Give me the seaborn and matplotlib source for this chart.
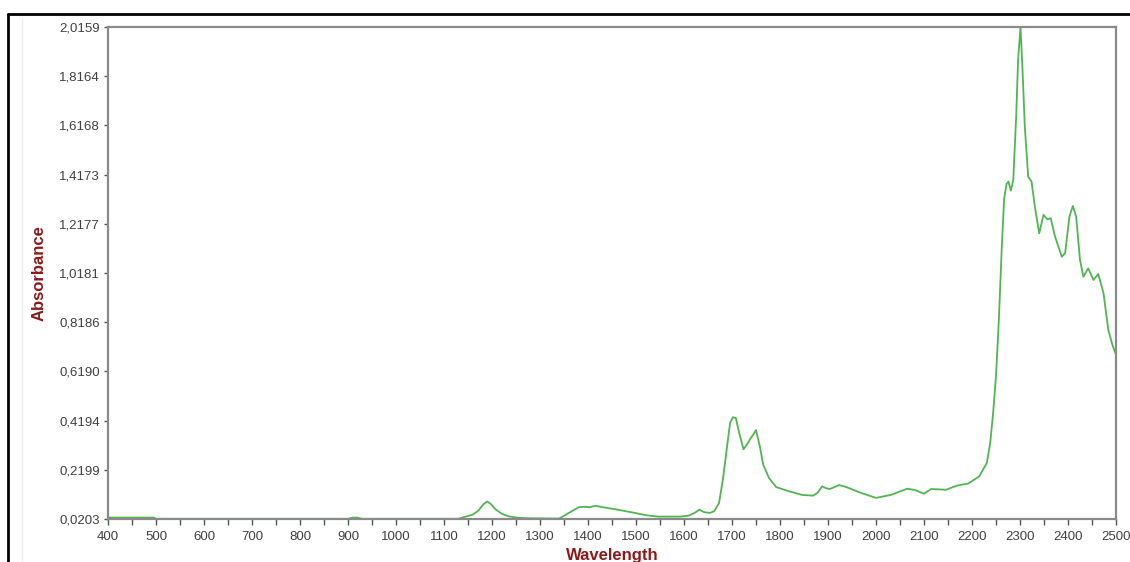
import numpy as np
import pandas as pd
import matplotlib
matplotlib.use("Agg")
import matplotlib.pyplot as plt
from matplotlib.lines import Line2D
from matplotlib.ticker import MultipleLocator
import seaborn as sns

# spectrum (wavelength, absorbance)
wavelength = [400, 495, 500, 900, 910, 920, 930, 1130, 1145, 1160, 1172, 1182, 1190, 1197,
              1207, 1220, 1235, 1255, 1280, 1340, 1354, 1369, 1381, 1392, 1404, 1415, 1431,
              1462, 1492, 1523, 1546, 1592, 1610, 1622, 1632, 1642, 1654, 1663, 1673, 1681,
              1688, 1696, 1702, 1708, 1715, 1724, 1731, 1738, 1745, 1750, 1758, 1765, 1777,
              1792, 1815, 1846, 1869, 1878, 1888, 1896, 1904, 1923, 1938, 1969, 2000, 2031,
              2065, 2081, 2100, 2115, 2146, 2169, 2192, 2215, 2231, 2238, 2244, 2250, 2256,
              2262, 2267, 2272, 2276, 2281, 2286, 2292, 2296, 2301, 2305, 2310, 2317, 2324,
              2331, 2340, 2349, 2357, 2364, 2373, 2387, 2394, 2403, 2410, 2417, 2425, 2432,
              2442, 2453, 2463, 2474, 2484, 2492, 2500]
absorbance = [0.026, 0.026, 0.021, 0.021, 0.026, 0.026, 0.021, 0.021, 0.030, 0.038, 0.055,
              0.080, 0.091, 0.082, 0.060, 0.042, 0.031, 0.025, 0.023, 0.022, 0.038, 0.055,
              0.068, 0.070, 0.068, 0.074, 0.068, 0.058, 0.047, 0.035, 0.030, 0.030, 0.034,
              0.045, 0.058, 0.048, 0.045, 0.052, 0.085, 0.180, 0.288, 0.410, 0.433, 0.430,
              0.369, 0.303, 0.322, 0.345, 0.365, 0.381, 0.315, 0.241, 0.187, 0.150, 0.135,
              0.118, 0.115, 0.126, 0.153, 0.145, 0.142, 0.158, 0.150, 0.126, 0.106, 0.118,
              0.143, 0.138, 0.123, 0.142, 0.139, 0.156, 0.164, 0.193, 0.248, 0.330, 0.450,
              0.600, 0.830, 1.120, 1.320, 1.380, 1.389, 1.352, 1.396, 1.652, 1.882, 2.0159,
              1.855, 1.612, 1.409, 1.389, 1.287, 1.179, 1.254, 1.236, 1.240, 1.166, 1.084,
              1.098, 1.247, 1.290, 1.247, 1.071, 1.003, 1.037, 0.990, 1.014, 0.936, 0.787,
              0.730, 0.686]

x_ticks = list(range(400, 2501, 100))
y_labels = ["0,0203", "0,2199", "0,4194", "0,6190", "0,8186", "1,0181",
            "1,2177", "1,4173", "1,6168", "1,8164", "2,0159"]
y_min, y_max = 0.0203, 2.0159

df = pd.DataFrame({"Wavelength": wavelength, "Absorbance": absorbance})

sns.set_style("white")
plt.rcParams["font.family"] = ["Liberation Sans", "DejaVu Sans"]

fig = plt.figure(figsize=(11.3, 5.62), dpi=100)
ax = fig.add_axes([108 / 1130, 1 - 519 / 562, 1008 / 1130, 492 / 562])

sns.lineplot(data=df, x="Wavelength", y="Absorbance", ax=ax,
             color="#52b452", linewidth=1.3)

ax.set_xlim(400, 2500)
ax.set_ylim(y_min, y_max)
ax.set_xticks(x_ticks)
ax.set_xticklabels([str(t) for t in x_ticks])
ax.xaxis.set_minor_locator(MultipleLocator(50))
ax.set_yticks(np.linspace(y_min, y_max, len(y_labels)))
ax.set_yticklabels(y_labels)

ax.tick_params(axis="x", which="both", direction="out", length=4, width=1,
               color="#555555", labelsize=9.5, labelcolor="#404040", pad=5, bottom=True)
ax.tick_params(axis="y", direction="out", length=3, width=1, color="#555555",
               labelsize=9.5, labelcolor="#404040", pad=3, left=True)

for s in ax.spines.values():
    s.set_color("#8a8a8a")
    s.set_linewidth(1.6)

ax.set_xlabel("Wavelength", fontsize=12, fontweight="bold", color="#8b1a1a", labelpad=3)
ax.set_ylabel("Absorbance", fontsize=12, fontweight="bold", color="#8b1a1a", labelpad=9)

# screenshot border
fig.add_artist(Line2D([8 / 1130, 1], [1 - 14 / 562, 1 - 14 / 562], color="black", linewidth=2))
fig.add_artist(Line2D([8 / 1130, 8 / 1130], [0, 1 - 14 / 562], color="black", linewidth=2))
fig.add_artist(Line2D([22 / 1130, 22 / 1130], [0, 1 - 18 / 562], color="#eeeeee", linewidth=1))

fig.savefig("out.png", dpi=100)
